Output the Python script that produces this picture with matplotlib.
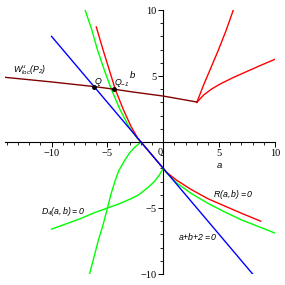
import matplotlib
matplotlib.use("Agg")
import matplotlib.pyplot as plt

plt.rcParams['mathtext.fontset'] = 'custom'
plt.rcParams['mathtext.it'] = 'Liberation Sans:italic'
plt.rcParams['mathtext.rm'] = 'Liberation Sans:italic'
plt.rcParams['mathtext.cal'] = 'Liberation Sans:italic'

# ---- data ----
# line a+b+2=0
blue_a = [-10, 8]
blue_b = [8, -10]

# W^u_loc(P2)
w_a = [-14.17, -10.0, -6.2, -4.4, -3.0, 0.0, 3.0]
w_b = [4.9, 4.55, 4.2, 4.0, 3.82, 3.48, 3.03]

# R(a,b)=0 : main branch
r1_a = [-6.0, -5.4, -4.85, -4.3, -3.6, -2.9, -2.3, -2.0, -1.0, 0.0, 0.3, 1.2, 2.5, 4.0, 5.5, 7.0, 8.72]
r1_b = [8.72, 7.0, 5.5, 4.0, 2.5, 1.2, 0.3, 0.0, -1.0, -2.0, -2.3, -2.9, -3.6, -4.3, -4.85, -5.4, -6.0]
# R(a,b)=0 : two branches leaving the corner at (3,3)
r2_a = [3.0, 3.6, 4.3, 5.1, 6.3, 7.5, 8.7, 10.0]
r2_b = [3.0, 3.55, 4.0, 4.4, 4.9, 5.35, 5.8, 6.27]
r3_a = [3.0, 3.6, 4.2, 4.9, 5.6, 6.27]
r3_b = [3.0, 4.3, 5.5, 6.9, 8.4, 10.0]

# D4(a,b)=0
g1_a = [-7.0, -6.4, -5.9, -5.3, -4.65, -3.9, -3.1, -2.4, -2.0, -1.0, 0.0, 0.35, 1.2, 2.5, 4.0, 5.5, 7.0, 8.5, 10.0]
g1_b = [10.0, 8.5, 7.0, 5.5, 4.0, 2.5, 1.2, 0.35, 0.0, -1.0, -2.0, -2.4, -3.1, -3.9, -4.65, -5.3, -5.9, -6.4, -6.9]
g2_a = [-2.0, -2.2, -2.5, -3.0, -3.5, -4.0, -4.3, -4.7, -5.0, -5.4, -5.8, -6.2, -6.6]
g2_b = [0.0, -0.15, -0.35, -0.8, -1.45, -2.2, -2.9, -4.0, -5.0, -6.3, -7.4, -8.7, -10.0]
g3_a = [0.0, -0.15, -0.35, -0.8, -1.45, -2.2, -2.9, -4.0, -5.0, -6.3, -7.4, -8.7, -10.0]
g3_b = [-2.0, -2.2, -2.5, -3.0, -3.5, -4.0, -4.3, -4.7, -5.0, -5.4, -5.8, -6.2, -6.6]

# points Q, Q_{-1}
pt_a = [-6.2, -4.42]
pt_b = [4.2, 3.99]

xticks = [-10, -5, 5, 10]
yticks = [-10, -5, 5, 10]

# ---- figure ----
fig = plt.figure(figsize=(2.85, 2.85), dpi=100)
ax = fig.add_axes([5/285, 11/285, 270/285, 264/285])
ax.set_xlim(-14.17, 10)
ax.set_ylim(-10, 10)

lw = 1.0
ax.plot(g1_a, g1_b, color='#00ff00', lw=lw, zorder=2)
ax.plot(g2_a, g2_b, color='#00ff00', lw=lw, zorder=2)
ax.plot(g3_a, g3_b, color='#00ff00', lw=lw, zorder=2)
ax.plot(r1_a, r1_b, color='#ff0000', lw=lw, zorder=3)
ax.plot(r2_a, r2_b, color='#ff0000', lw=lw, zorder=3)
ax.plot(r3_a, r3_b, color='#ff0000', lw=lw, zorder=3)
ax.plot(blue_a, blue_b, color='#0000ff', lw=lw, zorder=4)
ax.plot(w_a, w_b, color='#800000', lw=lw, zorder=5)
ax.plot(pt_a, pt_b, 'o', color='black', ms=2.5, zorder=6)

# axes through origin
for s in ['top', 'right']:
    ax.spines[s].set_visible(False)
ax.spines['left'].set_position(('data', 0))
ax.spines['bottom'].set_position(('data', 0))
ax.spines['left'].set_linewidth(0.8)
ax.spines['bottom'].set_linewidth(0.8)
ax.set_xticks(xticks)
ax.set_yticks(yticks)
ax.set_xticks(range(-14, 11), minor=True)
ax.set_yticks(range(-10, 11), minor=True)
ax.tick_params(which='major', length=3.5, width=0.7, direction='out',
               labelsize=7.5, pad=1.5)
ax.tick_params(which='minor', length=2, width=0.6, direction='out')
ax.set_xticklabels([str(t).replace('-', '\u2212') for t in xticks])
ax.set_yticklabels([str(t).replace('-', '\u2212') for t in yticks])
for lab in ax.get_xticklabels() + ax.get_yticklabels():
    lab.set_family('Liberation Serif')
ax.text(-0.25, -0.45, '0', fontsize=7.5, family='Liberation Serif',
        ha='center', va='top')

fs = 6.3
ax.text(5.0, -1.8, 'a', fontsize=fs + 0.5, style='italic', family='Liberation Sans', ha='center', va='center')
ax.text(-2.75, 5.0, 'b', fontsize=fs + 0.5, style='italic', family='Liberation Sans', ha='center', va='center')
ax.text(-13.45, 5.4, r'$W^{u}_{loc}(P_2)$', fontsize=fs, ha='left', va='center')
ax.text(-5.8, 4.58, r'$Q$', fontsize=fs, ha='center', va='center')
ax.text(-4.42, 4.5, r'$Q_{-1}$', fontsize=fs, ha='left', va='center')
ax.text(6.27, -3.99, r'$R(a,b){=}0$', fontsize=fs, ha='center', va='center')
ax.text(3.06, -7.14, r'$a{+}b{+}2{=}0$', fontsize=fs, ha='center', va='center')
ax.text(-8.94, -5.25, r'$D_4(a,b){=}0$', fontsize=fs, ha='center', va='center')

fig.savefig('out.png', dpi=100)
